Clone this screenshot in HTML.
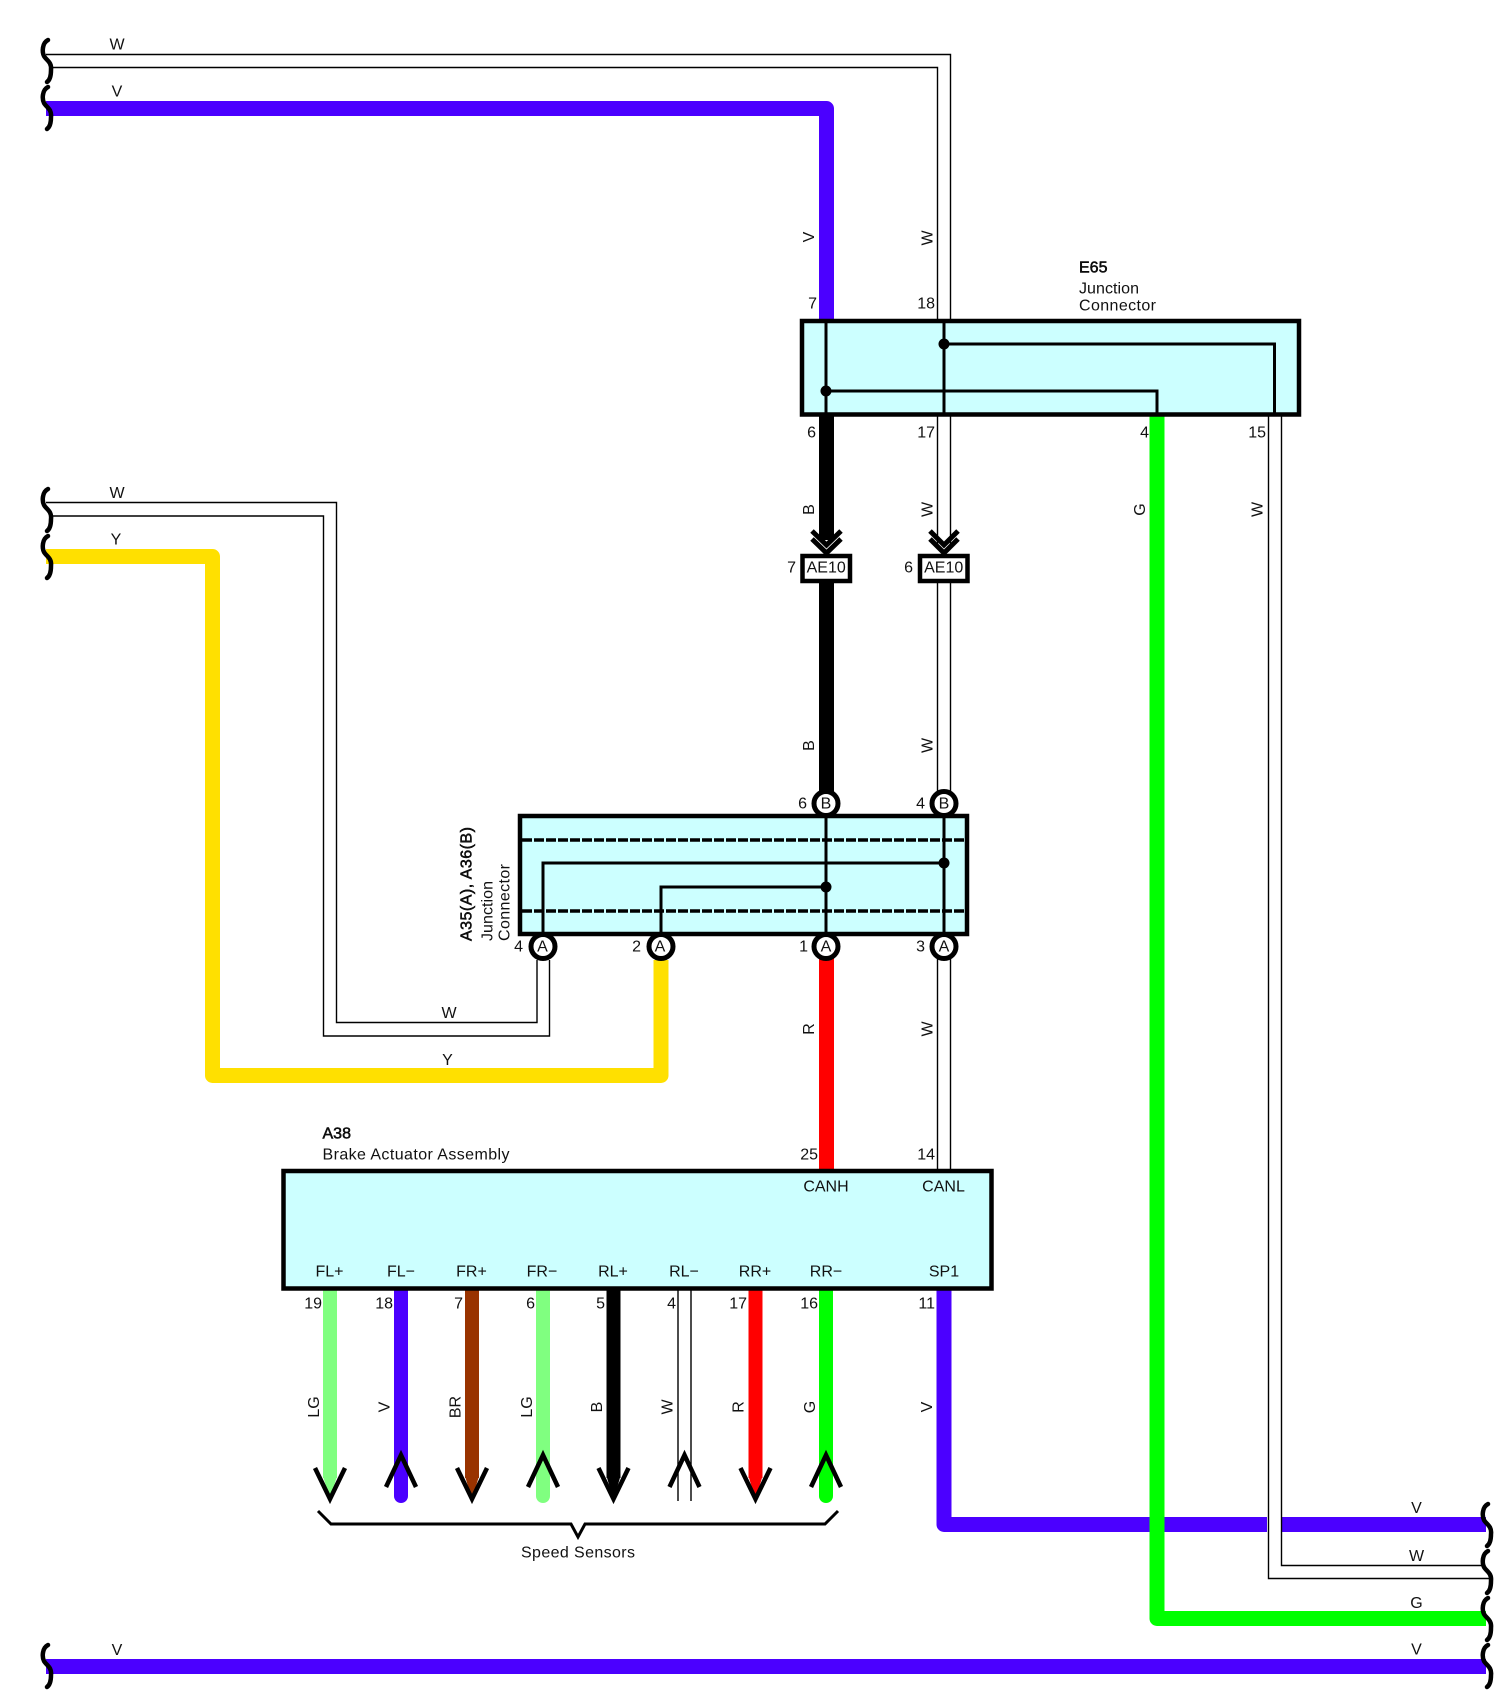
<!DOCTYPE html>
<html><head><meta charset="utf-8"><title>Wiring diagram</title>
<style>
html,body{margin:0;padding:0;background:#fff}
svg{display:block}
text{font-family:"Liberation Sans",Arial,sans-serif;font-size:16px;fill:#111;dominant-baseline:central}
.m{text-anchor:middle}.e{text-anchor:end}
.b{stroke:#000;stroke-width:.5}
.t{fill:none;stroke:#000;stroke-width:1.4}
.w{fill:none;stroke-width:15;stroke-linejoin:round;stroke-linecap:butt}
.box{fill:#ccffff;stroke:#000;stroke-width:4.5}
.in{fill:none;stroke:#000;stroke-width:3}
.sq{fill:none;stroke:#000;stroke-width:4.5;stroke-linecap:round}
.ar{fill:none;stroke:#000;stroke-width:4.5;stroke-linecap:butt;stroke-linejoin:miter}
.c{fill:#fff;stroke:#000;stroke-width:5}
</style></head><body>
<svg xmlns="http://www.w3.org/2000/svg" width="1506" height="1704" viewBox="0 0 1506 1704">
<defs><path id="s" class="sq" d="M48,40 C42,43 42,52 44,56 C46,60 52,62 51,70 C51,76 50,80 47,82"/></defs>
<rect width="1506" height="1704" fill="#fff"/>

<!-- thin W wires -->
<path class="t" d="M46,54.5H950.5V319"/>
<path class="t" d="M52,67.5H937.5V319"/>
<path class="t" d="M46,502.5H336.5V1022.5H537V960"/>
<path class="t" d="M52,516H323.5V1036H549.5V960"/>
<path class="t" d="M937.5,415V545M950.5,415V545"/>
<path class="t" d="M937.5,582V792M950.5,582V792"/>
<path class="t" d="M937.5,958V1170M950.5,958V1170"/>
<path class="t" d="M678,1290V1501M691,1290V1501"/>

<!-- coloured wires -->
<path class="w" stroke="#4b00ff" d="M46,108.5H826.5V320" style="stroke-linejoin:round"/>
<path class="w" stroke="#ffe000" d="M46,556.5H212.5V1075.5H661V960"/>
<path class="w" stroke="#000" d="M826.5,415V540"/>
<path class="w" stroke="#000" d="M826.5,582V792"/>
<path class="w" stroke="#ff0000" d="M826.5,958V1170"/>
<path class="w" stroke="#4b00ff" d="M944,1290V1524.5H1486"/>
<rect x="1267" y="1515" width="15" height="20" fill="#fff"/>
<path class="t" d="M1268.5,415V1578.5H1492"/>
<path class="t" d="M1281.5,415V1565.5H1483"/>
<path class="w" stroke="#00ff00" d="M1157,415V1618.5H1486"/>
<path class="w" stroke="#4b00ff" d="M46,1666.5H1486"/>

<!-- speed sensor wires -->
<g stroke-width="14" fill="none">
<path stroke="#80ff80" d="M330,1290V1478"/><path fill="#80ff80" stroke="none" d="M323,1476H337L330,1500Z"/>
<path stroke="#4b00ff" d="M401,1290V1496" stroke-linecap="round"/>
<path stroke="#993300" d="M472,1290V1478"/><path fill="#993300" stroke="none" d="M465,1476H479L472,1500Z"/>
<path stroke="#80ff80" d="M543,1290V1496" stroke-linecap="round"/>
<path stroke="#000" d="M613.5,1290V1478"/><path fill="#000" stroke="none" d="M606.5,1476H620.5L613.5,1500Z"/>
<path stroke="#ff0000" d="M755.5,1290V1478"/><path fill="#ff0000" stroke="none" d="M748.5,1476H762.5L755.5,1500Z"/>
<path stroke="#00ff00" d="M826,1290V1496" stroke-linecap="round"/>
</g>

<!-- arrowheads -->
<g class="ar">
<path d="M315,1468L330,1499L345,1468"/>
<path d="M386,1487L401,1455L416,1487"/>
<path d="M457,1468L472,1499L487,1468"/>
<path d="M528,1487L543,1455L558,1487"/>
<path d="M598.5,1468L613.5,1499L628.5,1468"/>
<path d="M669.5,1487L684.5,1455L699.5,1487"/>
<path d="M740.5,1468L755.5,1499L770.5,1468"/>
<path d="M811,1487L826,1455L841,1487"/>
</g>

<!-- brace -->
<path fill="none" stroke="#000" stroke-width="3" d="M318,1511L331,1524H571L578,1537L585,1524H825L838,1511"/>
<text class="m" x="578" y="1553" textLength="114" lengthAdjust="spacing">Speed Sensors</text>

<!-- chevrons -->
<g fill="none" stroke="#000" stroke-width="5">
<path d="M812,531L826.5,545L841,531M812,539L826.5,553L841,539"/>
<path d="M930,531L944,545L958,531M930,539L944,553L958,539"/>
</g>

<!-- AE10 -->
<rect x="802.5" y="556" width="47.5" height="25" fill="#fff" stroke="#000" stroke-width="4.5"/>
<rect x="920" y="556" width="47.5" height="25" fill="#fff" stroke="#000" stroke-width="4.5"/>
<text class="m" x="826.2" y="568">AE10</text>
<text class="m" x="943.7" y="568">AE10</text>
<text class="e" x="796" y="568">7</text>
<text class="e" x="913" y="568">6</text>

<!-- E65 -->
<rect class="box" x="802" y="321" width="497" height="93.5"/>
<path class="in" d="M826,321V414M944,321V414M944,344H1274.5V414M826,391H1157V414"/>
<circle cx="944" cy="344" r="5.5"/><circle cx="826" cy="391" r="5.5"/>
<text class="b" x="1079" y="268">E65</text>
<text x="1079" y="289" textLength="60" lengthAdjust="spacing">Junction</text>
<text x="1079" y="306" textLength="77" lengthAdjust="spacing">Connector</text>
<text class="e" x="817" y="304">7</text>
<text class="e" x="935" y="304">18</text>
<text class="e" x="816" y="433">6</text>
<text class="e" x="935" y="433">17</text>
<text class="e" x="1149" y="433">4</text>
<text class="e" x="1266" y="433">15</text>

<!-- A35/A36 -->
<rect class="box" x="520" y="816" width="447" height="118"/>
<path fill="none" stroke="#000" stroke-width="3.5" stroke-dasharray="10 2" d="M522,840H965M522,911H965"/>
<path class="in" d="M826,816V934M944,816V934M944,863H543V934M826,887H661V934"/>
<circle cx="944" cy="863" r="5.5"/><circle cx="826" cy="887" r="5.5"/>
<circle class="c" cx="826" cy="803.5" r="12"/><circle class="c" cx="944" cy="803.5" r="12"/>
<circle class="c" cx="543" cy="946.5" r="12"/><circle class="c" cx="661" cy="946.5" r="12"/>
<circle class="c" cx="826" cy="946.5" r="12"/><circle class="c" cx="944" cy="946.5" r="12"/>
<text class="m" x="826" y="804">B</text><text class="m" x="944" y="804">B</text>
<text class="m" x="542.5" y="947">A</text><text class="m" x="660" y="947">A</text>
<text class="m" x="826" y="947">A</text><text class="m" x="944" y="947">A</text>
<text class="e" x="807" y="804">6</text><text class="e" x="925" y="804">4</text>
<text class="e" x="523" y="947">4</text><text class="e" x="641" y="947">2</text>
<text class="e" x="808" y="947">1</text><text class="e" x="925" y="947">3</text>
<text class="b" transform="translate(467,941) rotate(-90)" textLength="114" lengthAdjust="spacing">A35(A), A36(B)</text>
<text transform="translate(488,941) rotate(-90)" textLength="60" lengthAdjust="spacing">Junction</text>
<text transform="translate(505,941) rotate(-90)" textLength="77" lengthAdjust="spacing">Connector</text>

<!-- A38 -->
<rect class="box" x="283.5" y="1171" width="708" height="117.5"/>
<text class="b" x="322.5" y="1134">A38</text>
<text x="322.5" y="1155" textLength="187" lengthAdjust="spacing">Brake Actuator Assembly</text>
<text class="e" x="818" y="1155">25</text><text class="e" x="935" y="1155">14</text>
<text class="m" x="826" y="1187">CANH</text><text class="m" x="943.5" y="1187">CANL</text>
<text class="m" x="329.5" y="1272">FL+</text><text class="m" x="401" y="1272">FL−</text>
<text class="m" x="471.5" y="1272">FR+</text><text class="m" x="542" y="1272">FR−</text>
<text class="m" x="613" y="1272">RL+</text><text class="m" x="684" y="1272">RL−</text>
<text class="m" x="755" y="1272">RR+</text><text class="m" x="826" y="1272">RR−</text>
<text class="m" x="944" y="1272">SP1</text>
<text class="e" x="322" y="1304">19</text><text class="e" x="393" y="1304">18</text>
<text class="e" x="463" y="1304">7</text><text class="e" x="535" y="1304">6</text>
<text class="e" x="605" y="1304">5</text><text class="e" x="676" y="1304">4</text>
<text class="e" x="747" y="1304">17</text><text class="e" x="818" y="1304">16</text>
<text class="e" x="935" y="1304">11</text>

<!-- horizontal wire labels -->
<text class="m" x="117" y="45">W</text><text class="m" x="117" y="92">V</text>
<text class="m" x="117" y="493.5">W</text><text class="m" x="116" y="540">Y</text>
<text class="m" x="449" y="1013.5">W</text><text class="m" x="447.5" y="1060.5">Y</text>
<text class="m" x="1416.5" y="1508.5">V</text><text class="m" x="1416.5" y="1556.5">W</text>
<text class="m" x="1416.5" y="1603.5">G</text><text class="m" x="1416.5" y="1650">V</text>
<text class="m" x="117" y="1650.5">V</text>

<!-- vertical wire labels -->
<text class="m" transform="translate(809.5,237) rotate(-90)">V</text>
<text class="m" transform="translate(928,238) rotate(-90)">W</text>
<text class="m" transform="translate(809.5,509.5) rotate(-90)">B</text>
<text class="m" transform="translate(928,509.5) rotate(-90)">W</text>
<text class="m" transform="translate(1140.5,509.5) rotate(-90)">G</text>
<text class="m" transform="translate(1258,509.5) rotate(-90)">W</text>
<text class="m" transform="translate(809.5,745.5) rotate(-90)">B</text>
<text class="m" transform="translate(928,745.5) rotate(-90)">W</text>
<text class="m" transform="translate(809.5,1029) rotate(-90)">R</text>
<text class="m" transform="translate(928,1029) rotate(-90)">W</text>
<text class="m" transform="translate(314.5,1407) rotate(-90)">LG</text>
<text class="m" transform="translate(385,1407) rotate(-90)">V</text>
<text class="m" transform="translate(456,1407) rotate(-90)">BR</text>
<text class="m" transform="translate(527.5,1407) rotate(-90)">LG</text>
<text class="m" transform="translate(597.5,1407) rotate(-90)">B</text>
<text class="m" transform="translate(668,1407) rotate(-90)">W</text>
<text class="m" transform="translate(739,1407) rotate(-90)">R</text>
<text class="m" transform="translate(810.5,1407) rotate(-90)">G</text>
<text class="m" transform="translate(927.5,1407) rotate(-90)">V</text>

<!-- squiggles -->
<use href="#s"/><use href="#s" y="47"/>
<use href="#s" y="449"/><use href="#s" y="496"/>
<use href="#s" y="1605"/>
<use href="#s" x="1440" y="1464"/><use href="#s" x="1440" y="1511"/>
<use href="#s" x="1440" y="1558"/><use href="#s" x="1440" y="1605"/>
</svg>
</body></html>
